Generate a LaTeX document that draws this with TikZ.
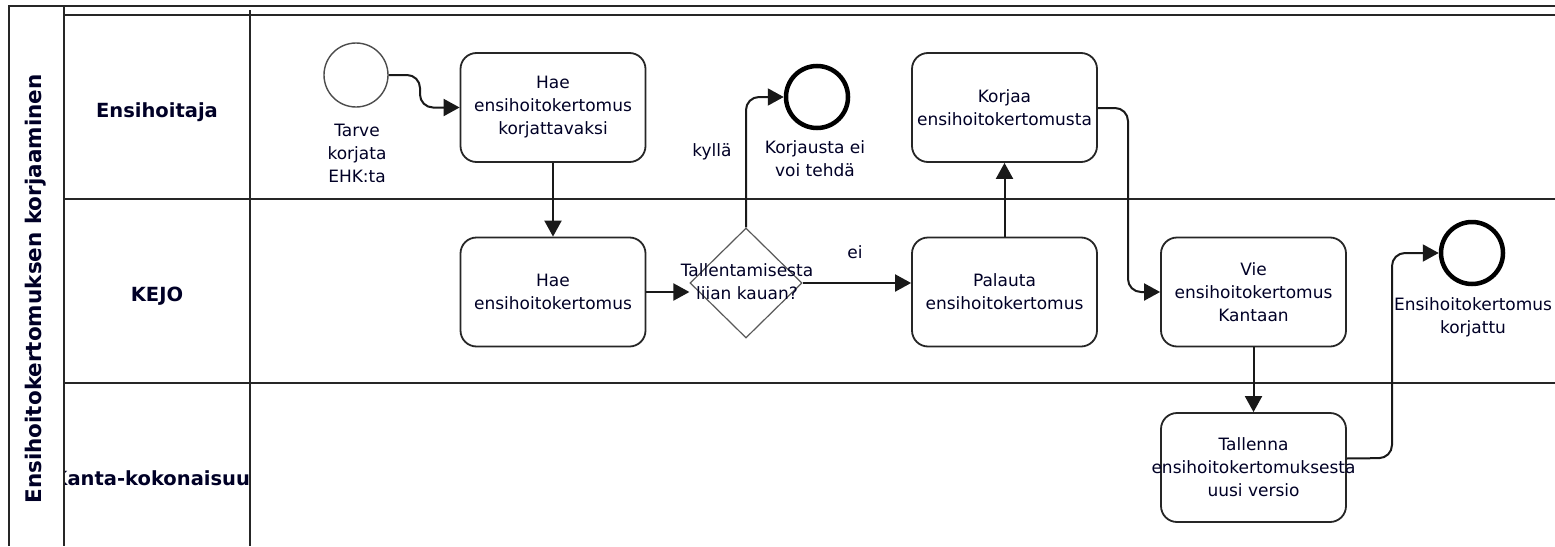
\documentclass[tikz,border=0pt]{standalone}
\usepackage{fontspec}
\setmainfont{DejaVu Sans}
\usetikzlibrary{arrows.meta,shapes.geometric}
\begin{document}
\begin{tikzpicture}[x=1pt,y=-1pt,
  every node/.style={font=\fontsize{17}{23}\selectfont, text=black!85!blue},
  frameline/.style={line width=2.4pt, draw=black!85},
  task/.style={draw=black!85, line width=1.8pt, rounded corners=16pt, minimum width=185pt, minimum height=109pt, align=center, inner sep=0pt},
  startev/.style={circle, draw=black!70, line width=1.4pt, minimum size=64pt, inner sep=0pt},
  endev/.style={circle, draw=black, line width=4.5pt, minimum size=62pt, inner sep=0pt},
  gateway/.style={diamond, draw=black!65, line width=1.2pt, minimum width=112pt, minimum height=110pt, inner sep=0pt},
  flow/.style={draw=black!90, line width=2pt, rounded corners=13pt, -{Triangle[length=16pt,width=17pt]}},
  lanelabel/.style={font=\fontsize{19.5}{23}\bfseries\selectfont},
  lbl/.style={align=center}
]
\useasboundingbox (0,0) rectangle (1555,546);
\fill[white] (0,0) rectangle (1555,546);
% frame
\draw[frameline] (1555,6) -- (9,6) -- (9,546);
\draw[frameline] (64,6) -- (64,546);
\draw[frameline] (64,15) -- (1555,15);
\draw[frameline] (250,10) -- (250,546);
\draw[frameline] (64,199) -- (1555,199);
\draw[frameline] (64,383) -- (1555,383);
% pool and lane labels
\node[rotate=90, font=\fontsize{21.5}{24}\bfseries\selectfont] (pool) at (36,289) {Ensihoitokertomuksen korjaaminen};
\node[lanelabel] (l1) at (157,112) {Ensihoitaja};
\node[lanelabel] (l2) at (157,296) {KEJO};
\begin{scope}
\clip (65,384) rectangle (249,546);
\node[lanelabel] (l3) at (157,478) {Kanta-kokonaisuus};
\end{scope}
% events
\node[startev] (start) at (356,75) {};
\node[lbl] (startlbl) at (357,153) {Tarve\\korjata\\EHK:ta};
\node[endev] (end1) at (817,97) {};
\node[lbl] (end1lbl) at (815,159) {Korjausta ei\\voi tehdä};
\node[endev] (end2) at (1472,253) {};
\node[lbl] (end2lbl) at (1473,317) {Ensihoitokertomus\\korjattu};
% tasks
\node[task] (t1) at (553,107.5) {Hae\\ensihoitokertomus\\korjattavaksi};
\node[task] (t2) at (553,292) {Hae\\ensihoitokertomus};
\node[gateway] (gw) at (746,283) {};
\node[lbl] (gwtext) at (747,282) {Tallentamisesta\\liian kauan?};
\node[task] (t3) at (1004.5,292) {Palauta\\ensihoitokertomus};
\node[task] (t4) at (1004.5,107.5) {Korjaa\\ensihoitokertomusta};
\node[task] (t5) at (1253.5,292) {Vie\\ensihoitokertomus\\Kantaan};
\node[task] (t6) at (1253.5,467.5) {Tallenna\\\makebox[180pt][c]{ensihoitokertomuksesta}\\uusi versio};
% flows
\draw[flow] (start.east) -- (420,75) |- (t1.west);
\draw[flow] (t1.south) -- (t2.north);
\draw[flow] (t2.east) -- (t2.east -| gw.west);
\draw[flow] (gw.north) |- (end1.west);
\draw[flow] (gw.east) -- (gw.east -| t3.west);
\draw[flow] (t3.north) -- (t4.south);
\draw[flow] ([yshift=-0.5pt]t4.east) -- (1128,108) |- (t5.west);
\draw[flow] (t5.south) -- (t6.north);
\draw[flow] ([yshift=9pt]t6.east) -- (1392,458) |- (end2.west);
% flow labels
\node (kylla) at (712,152) {kyllä};
\node (ei) at (855,252) {ei};
\end{tikzpicture}
\end{document}
